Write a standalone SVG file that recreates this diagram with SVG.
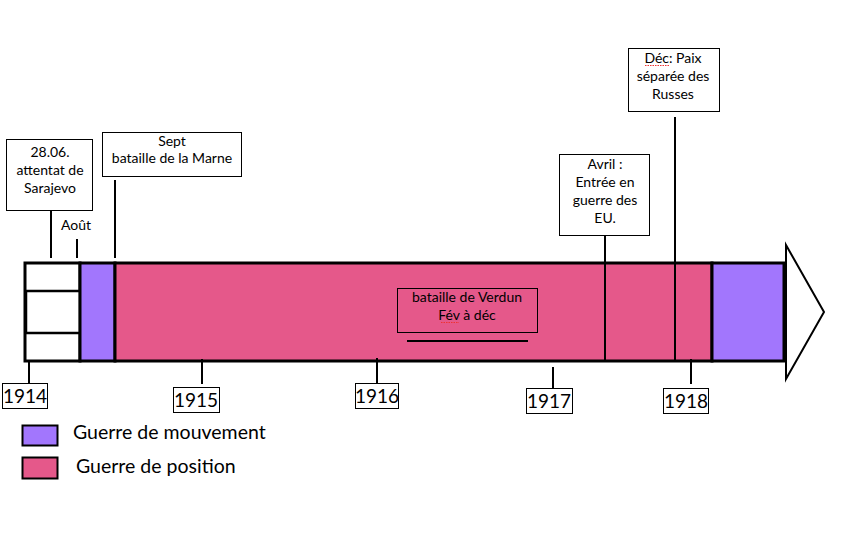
<svg xmlns="http://www.w3.org/2000/svg" width="859" height="551" viewBox="0 0 859 551">
<style>
text{font-family:Lato,"Open Sans","Liberation Sans",sans-serif;fill:#000}
.b{font-size:14px;text-anchor:middle}
.y{font-size:19px;text-anchor:middle}
.l{font-size:19.5px}
.box{fill:#fff;stroke:#000;stroke-width:1}
.ln{stroke:#000;stroke-width:2;fill:none}
.mv{fill:#a276fd}
.ps{fill:#e5588a}
.sq{stroke:#e33;stroke-width:1;stroke-dasharray:1.5 1}
</style>
<rect width="859" height="551" fill="#fff"/>
<g id="arrow"><polygon points="786,245 824,312 786,379" fill="#fff" stroke="#000" stroke-width="2"/></g>
<g id="timeline">
<rect x="25" y="263" width="55" height="98" fill="#fff" stroke="#000" stroke-width="3"/>
<rect x="26" y="291" width="54" height="42" fill="#fff" stroke="#000" stroke-width="2.5"/>
<rect x="80" y="263" width="35" height="98" class="mv" stroke="#000" stroke-width="3"/>
<rect x="115" y="263" width="597" height="98" class="ps" stroke="#000" stroke-width="3"/>
<rect x="712" y="263" width="72" height="98" class="mv" stroke="#000" stroke-width="3"/>
</g>
<g id="connectors">
<line class="ln" x1="51" y1="210" x2="51" y2="258"/>
<line class="ln" x1="77" y1="239" x2="77" y2="258"/>
<line class="ln" x1="115" y1="180" x2="115" y2="258"/>
<line class="ln" x1="605" y1="236" x2="605" y2="361"/>
<line class="ln" x1="675" y1="117" x2="675" y2="361"/>
<line class="ln" x1="29" y1="361" x2="29" y2="383"/>
<line class="ln" x1="202" y1="359" x2="202" y2="384"/>
<line class="ln" x1="377" y1="358" x2="377" y2="383"/>
<line class="ln" x1="553" y1="367" x2="553" y2="390"/>
<line class="ln" x1="691" y1="359" x2="691" y2="384"/>
<line class="ln" x1="407" y1="341" x2="528" y2="341"/>
</g>
<g id="sarajevo">
<rect class="box" x="6.5" y="139.5" width="86" height="71"/>
<text class="b" x="50" y="157">28.06.</text>
<text class="b" x="50" y="175">attentat de</text>
<text class="b" x="50" y="193">Sarajevo</text>
</g>
<g id="aout"><text class="b" x="76" y="230">Août</text></g>
<g id="marne">
<rect class="box" x="102.5" y="132.5" width="139" height="44"/>
<text class="b" x="172" y="146">Sept</text>
<text class="b" x="172" y="163">bataille de la Marne</text>
</g>
<g id="verdun">
<rect x="397.5" y="288.5" width="140" height="44" fill="none" stroke="#000" stroke-width="1"/>
<text class="b" x="467" y="302">bataille de Verdun</text>
<text class="b" x="467" y="320">Fév à déc</text>
<line class="sq" x1="441" y1="322.5" x2="459" y2="322.5"/>
</g>
<g id="avril">
<rect class="box" x="559.5" y="154.5" width="90" height="81"/>
<text class="b" x="605" y="169">Avril :</text>
<text class="b" x="605" y="187">Entrée en</text>
<text class="b" x="605" y="205">guerre des</text>
<text class="b" x="605" y="223">EU.</text>
</g>
<g id="dec">
<rect class="box" x="628.5" y="48.5" width="91" height="63"/>
<text class="b" x="673" y="63">Déc:  Paix</text>
<text class="b" x="673" y="81">séparée des</text>
<text class="b" x="673" y="99">Russes</text>
<line class="sq" x1="645" y1="65.5" x2="670" y2="65.5"/>
</g>
<g id="y1914"><rect class="box" x="2.5" y="383.5" width="45" height="25"/><text class="y" x="25" y="403">1914</text></g>
<g id="y1915"><rect class="box" x="173.5" y="387.5" width="46" height="25"/><text class="y" x="196" y="407">1915</text></g>
<g id="y1916"><rect class="box" x="355.5" y="383.5" width="43" height="25"/><text class="y" x="377" y="403">1916</text></g>
<g id="y1917"><rect class="box" x="526.5" y="388.5" width="46" height="25"/><text class="y" x="549" y="408">1917</text></g>
<g id="y1918"><rect class="box" x="663.5" y="388.5" width="45" height="25"/><text class="y" x="686" y="408">1918</text></g>
<g id="legend">
<rect x="22.5" y="425.5" width="35" height="20" class="mv" stroke="#000" stroke-width="2"/>
<text class="l" x="73" y="439">Guerre de mouvement</text>
<rect x="22.5" y="457.5" width="35" height="21" class="ps" stroke="#000" stroke-width="2"/>
<text class="l" x="76" y="473">Guerre de position</text>
</g>
</svg>
